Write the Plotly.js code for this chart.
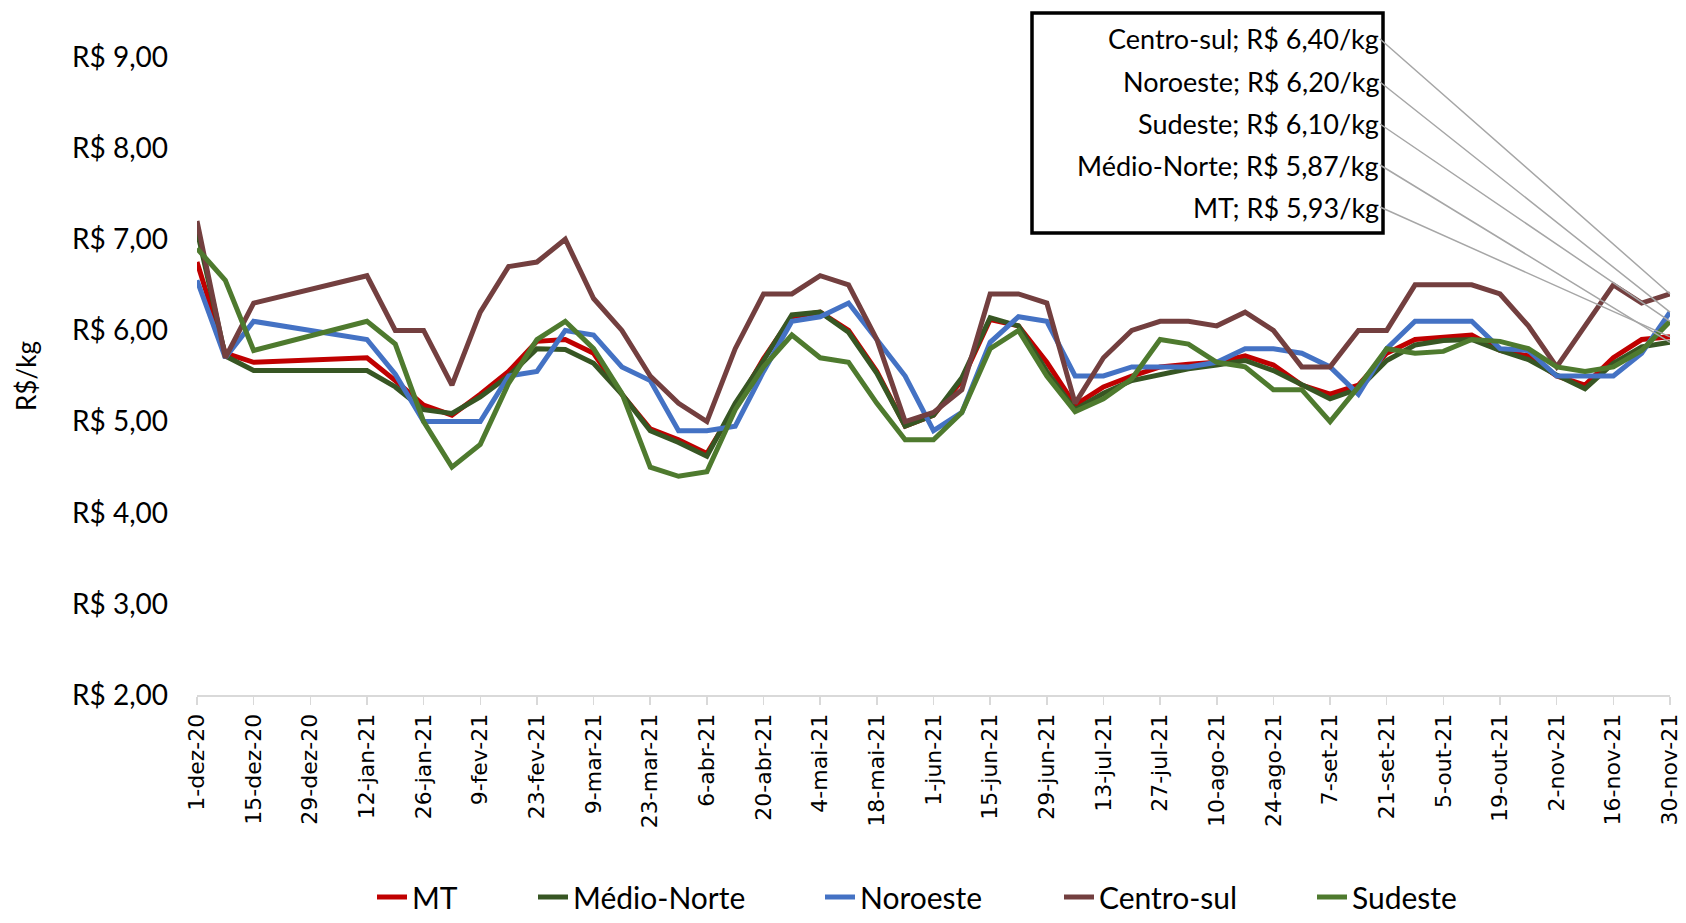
<!DOCTYPE html>
<html>
<head>
<meta charset="utf-8">
<script src="https://cdn.plot.ly/plotly-3.0.1.min.js"></script>
<style>html,body{margin:0;padding:0;background:#fff;}#chart{width:1686px;height:923px;}</style>
</head>
<body>
<div id="chart"></div>
<script>
const dates = ["2020-12-01","2020-12-08","2020-12-15","2021-01-12","2021-01-19","2021-01-26","2021-02-02","2021-02-09","2021-02-16","2021-02-23","2021-03-02","2021-03-09","2021-03-16","2021-03-23","2021-03-30","2021-04-06","2021-04-13","2021-04-20","2021-04-27","2021-05-04","2021-05-11","2021-05-18","2021-05-25","2021-06-01","2021-06-08","2021-06-15","2021-06-22","2021-06-29","2021-07-06","2021-07-13","2021-07-20","2021-07-27","2021-08-03","2021-08-10","2021-08-17","2021-08-24","2021-08-31","2021-09-07","2021-09-14","2021-09-21","2021-09-28","2021-10-05","2021-10-12","2021-10-19","2021-10-26","2021-11-02","2021-11-09","2021-11-16","2021-11-23","2021-11-30"];

const mt = [6.75,5.75,5.65,5.70,5.45,5.18,5.07,5.30,5.55,5.88,5.90,5.75,5.30,4.92,4.80,4.65,5.16,5.69,6.15,6.20,6.00,5.55,4.95,5.07,5.45,6.12,6.05,5.65,5.18,5.38,5.50,5.60,5.63,5.65,5.72,5.62,5.40,5.30,5.40,5.75,5.90,5.93,5.95,5.78,5.72,5.50,5.40,5.70,5.90,5.93];
const medioNorte = [7.10,5.72,5.56,5.56,5.38,5.13,5.09,5.27,5.50,5.80,5.79,5.64,5.30,4.90,4.77,4.62,5.20,5.67,6.17,6.20,5.98,5.53,4.95,5.07,5.48,6.14,6.05,5.55,5.13,5.31,5.45,5.52,5.58,5.62,5.67,5.56,5.40,5.25,5.36,5.67,5.84,5.89,5.90,5.78,5.68,5.51,5.36,5.64,5.82,5.87];
const noroeste = [6.55,5.70,6.10,5.90,5.52,5.00,5.00,5.00,5.50,5.55,6.00,5.95,5.60,5.45,4.90,4.90,4.95,5.55,6.10,6.15,6.30,5.90,5.50,4.90,5.10,5.87,6.15,6.10,5.50,5.50,5.60,5.60,5.60,5.65,5.80,5.80,5.75,5.60,5.30,5.80,6.10,6.10,6.10,5.80,5.78,5.50,5.50,5.50,5.75,6.20];
const centroSul = [7.20,5.70,6.30,6.60,6.00,6.00,5.40,6.20,6.70,6.75,7.00,6.35,6.00,5.50,5.20,5.00,5.80,6.40,6.40,6.60,6.50,5.90,5.00,5.10,5.35,6.40,6.40,6.30,5.20,5.70,6.00,6.10,6.10,6.05,6.20,6.00,5.60,5.60,6.00,6.00,6.50,6.50,6.50,6.40,6.05,5.60,6.05,6.50,6.30,6.40];
const sudeste = [6.90,6.55,5.78,6.10,5.85,5.00,4.50,4.75,5.42,5.90,6.10,5.80,5.31,4.50,4.40,4.45,5.13,5.60,5.95,5.70,5.65,5.20,4.80,4.80,5.10,5.80,6.00,5.50,5.11,5.25,5.47,5.90,5.85,5.65,5.60,5.35,5.35,5.00,5.38,5.80,5.75,5.77,5.90,5.88,5.80,5.60,5.55,5.60,5.78,6.10];

const seriesNames = ["MT","Médio-Norte","Noroeste","Centro-sul","Sudeste"];
const seriesColors = ["#C00000","#375623","#4472C4","#733F3F","#4E7A2E"];
const seriesValues = [mt, medioNorte, noroeste, centroSul, sudeste];

const tickDates = ["2020-12-01","2020-12-15","2020-12-29","2021-01-12","2021-01-26","2021-02-09","2021-02-23","2021-03-09","2021-03-23","2021-04-06","2021-04-20","2021-05-04","2021-05-18","2021-06-01","2021-06-15","2021-06-29","2021-07-13","2021-07-27","2021-08-10","2021-08-24","2021-09-07","2021-09-21","2021-10-05","2021-10-19","2021-11-02","2021-11-16","2021-11-30"];
const tickLabels = ["1-dez-20","15-dez-20","29-dez-20","12-jan-21","26-jan-21","9-fev-21","23-fev-21","9-mar-21","23-mar-21","6-abr-21","20-abr-21","4-mai-21","18-mai-21","1-jun-21","15-jun-21","29-jun-21","13-jul-21","27-jul-21","10-ago-21","24-ago-21","7-set-21","21-set-21","5-out-21","19-out-21","2-nov-21","16-nov-21","30-nov-21"];

// Callout box order (top to bottom)
const calloutOrder = ["Centro-sul","Noroeste","Sudeste","Médio-Norte","MT"];

const W = 1686, H = 923;
const M = {l:197, r:16, t:57, b:228};
const plotW = W - M.l - M.r, plotH = H - M.t - M.b;
const yMin = 2, yMax = 9;

// legend item text start positions (px)
const legendTextX = [412, 573, 860, 1099, 1352];
const legendKeys = ['legend','legend2','legend3','legend4','legend5'];

const traces = seriesNames.map((n,i)=>({
  type:'scatter', mode:'lines', name:n, x:dates, y:seriesValues[i],
  line:{color:seriesColors[i], width:5}, hoverinfo:'skip', legend:legendKeys[i]
}));

// callout annotations
const boxRightPx = 1380;
const lineYpx = [39, 82, 124, 165, 207];
const fmt = v => v.toFixed(2).replace('.', ',');
const annotations = calloutOrder.map((n,k)=>{
  const idx = seriesNames.indexOf(n);
  const vals = seriesValues[idx];
  const last = vals[vals.length-1];
  const px = M.l + plotW;
  const py = M.t + (yMax - last)/(yMax - yMin)*plotH;
  return {
    x: dates[dates.length-1], y: last, xref:'x', yref:'y',
    text: n + '; R$ ' + fmt(last) + '/kg',
    showarrow:true, arrowhead:0, arrowwidth:1.5, arrowcolor:'#A6A6A6',
    ax: boxRightPx - px, ay: lineYpx[k] - py, axref:'pixel', ayref:'pixel',
    xanchor:'right', yanchor:'middle', borderpad:0,
    font:{family:'Lato, "Open Sans", sans-serif', size:27, color:'#000'}
  };
});

const layout = {
  width:W, height:H,
  margin:M,
  paper_bgcolor:'#fff', plot_bgcolor:'#fff',
  separators:',.',
  showlegend:true,
  xaxis:{type:'date', range:['2020-12-01','2021-11-30'], tickvals:tickDates, ticktext:tickLabels,
    tickangle:-90, showgrid:false, zeroline:false, showline:true, linecolor:'#D9D9D9', linewidth:2,
    ticks:'outside', ticklen:8, tickcolor:'#D9D9D9', tickwidth:1.5,
    tickfont:{family:'"DejaVu Sans", Verdana, sans-serif', size:22, color:'#000'}},
  yaxis:{range:[yMin,yMax], dtick:1, tick0:2, tickformat:'.2f', tickprefix:'R$ ', showgrid:false, zeroline:false,
    showline:false, ticks:'', ticklabelstandoff:28,
    tickfont:{family:'Lato, sans-serif', size:28, color:'#000'},
    title:{text:'R$/kg', font:{family:'Lato, sans-serif', size:26, color:'#000'}, standoff:27}},
  shapes:[{type:'rect', xref:'paper', yref:'paper',
    x0:(1032-M.l)/plotW, x1:(1383-M.l)/plotW,
    y0:(H-M.b-233)/plotH, y1:(H-M.b-13)/plotH,
    line:{color:'#000', width:3.5}, fillcolor:'#fff', layer:'above'}],
  annotations:annotations
};

legendKeys.forEach((k,i)=>{
  layout[k] = {orientation:'h', xref:'container', yref:'container',
    x:(legendTextX[i]-40)/W, y:-0.012, xanchor:'left', yanchor:'bottom',
    bgcolor:'rgba(0,0,0,0)', borderwidth:0,
    font:{family:'Lato, sans-serif', size:30, color:'#000'}};
});

Plotly.newPlot('chart', traces, layout, {displayModeBar:false, staticPlot:true});
</script>
</body>
</html>
